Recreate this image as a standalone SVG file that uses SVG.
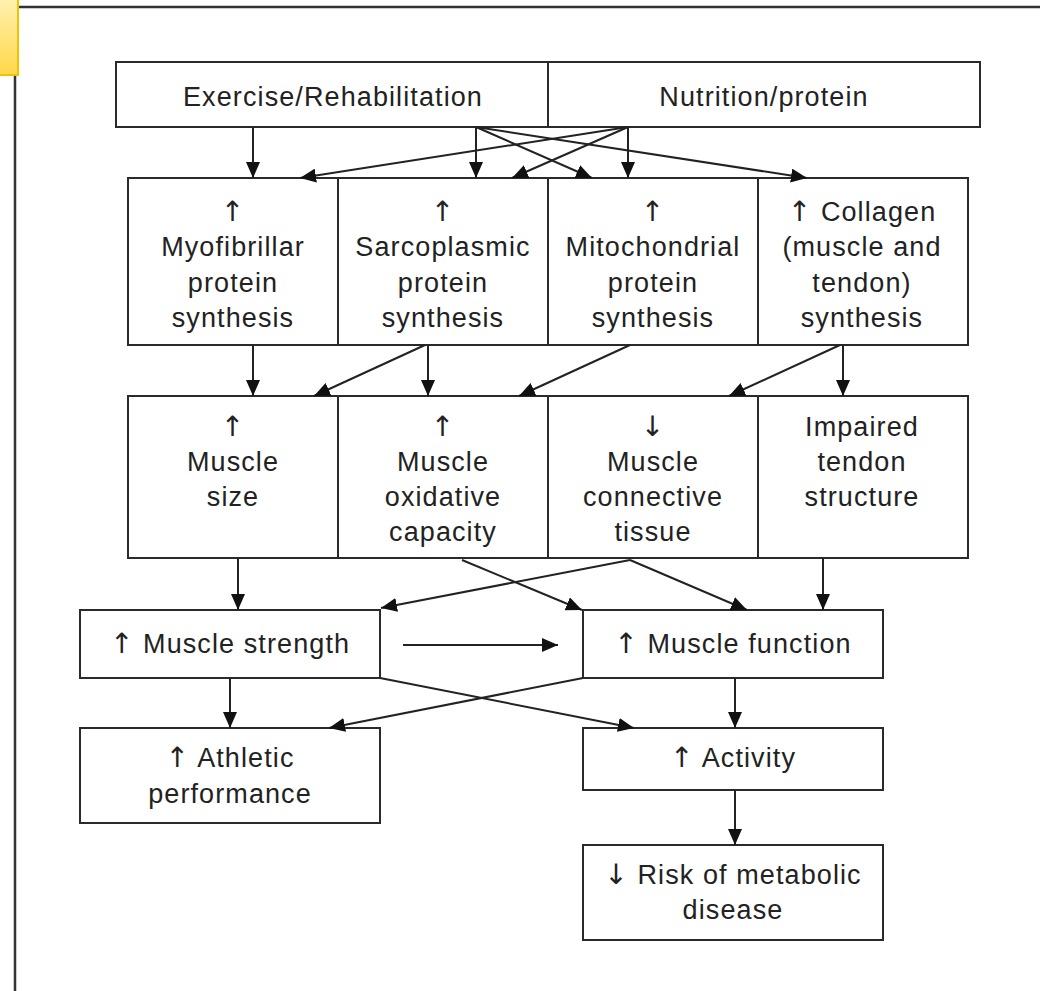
<svg xmlns="http://www.w3.org/2000/svg" width="1040" height="991" viewBox="0 0 1040 991">
<style>
.box{fill:#fff;stroke:#2a2a2a;stroke-width:2}
.t{font-family:"Liberation Sans","DejaVu Sans",sans-serif;font-size:27px;letter-spacing:1.1px;fill:#222;text-anchor:middle}
.a{font-family:"DejaVu Sans",sans-serif;font-size:28px;fill:#222}
.c{stroke:#222;stroke-width:2;fill:none;marker-end:url(#ah)}
.frame{stroke:#333;stroke-width:2.5;fill:none}
</style>
<defs>
<marker id="ah" viewBox="0 0 16 14" refX="16" refY="7" markerWidth="16" markerHeight="14" markerUnits="userSpaceOnUse" orient="auto">
<path d="M0,0 L16,7 L0,14 Z" fill="#111"/>
</marker>
<linearGradient id="yg" x1="0" y1="0" x2="0" y2="1">
<stop offset="0" stop-color="#fff1b0"/>
<stop offset="1" stop-color="#ffd84a"/>
</linearGradient>
</defs>
<g id="frame">
<line class="frame" x1="18" y1="7" x2="1040" y2="7"/>
<line class="frame" x1="15" y1="75" x2="15" y2="991"/>
<rect x="-2" y="-2" width="20" height="77" fill="url(#yg)" stroke="#f2c200" stroke-width="2"/>
</g>
<g id="exercise">
<rect class="box" x="116" y="62" width="432" height="65"/>
<text class="t" x="333" y="106">Exercise/Rehabilitation</text>
</g>
<g id="nutrition">
<rect class="box" x="548" y="62" width="432" height="65"/>
<text class="t" x="764" y="106">Nutrition/protein</text>
</g>
<g id="myofibrillar">
<rect class="box" x="128" y="178" width="210" height="167"/>
<text class="t" x="233" y="221"><tspan class="a">↑</tspan></text>
<text class="t" x="233" y="256">Myofibrillar</text>
<text class="t" x="233" y="292">protein</text>
<text class="t" x="233" y="327">synthesis</text>
</g>
<g id="sarcoplasmic">
<rect class="box" x="338" y="178" width="210" height="167"/>
<text class="t" x="443" y="221"><tspan class="a">↑</tspan></text>
<text class="t" x="443" y="256">Sarcoplasmic</text>
<text class="t" x="443" y="292">protein</text>
<text class="t" x="443" y="327">synthesis</text>
</g>
<g id="mitochondrial">
<rect class="box" x="548" y="178" width="210" height="167"/>
<text class="t" x="653" y="221"><tspan class="a">↑</tspan></text>
<text class="t" x="653" y="256">Mitochondrial</text>
<text class="t" x="653" y="292">protein</text>
<text class="t" x="653" y="327">synthesis</text>
</g>
<g id="collagen">
<rect class="box" x="758" y="178" width="210" height="167"/>
<text class="t" x="862" y="221"><tspan class="a">↑</tspan> Collagen</text>
<text class="t" x="862" y="256">(muscle and</text>
<text class="t" x="862" y="292">tendon)</text>
<text class="t" x="862" y="327">synthesis</text>
</g>
<g id="size">
<rect class="box" x="128" y="396" width="210" height="162"/>
<text class="t" x="233" y="436"><tspan class="a">↑</tspan></text>
<text class="t" x="233" y="471">Muscle</text>
<text class="t" x="233" y="506">size</text>
</g>
<g id="oxidative">
<rect class="box" x="338" y="396" width="210" height="162"/>
<text class="t" x="443" y="436"><tspan class="a">↑</tspan></text>
<text class="t" x="443" y="471">Muscle</text>
<text class="t" x="443" y="506">oxidative</text>
<text class="t" x="443" y="541">capacity</text>
</g>
<g id="connective">
<rect class="box" x="548" y="396" width="210" height="162"/>
<text class="t" x="653" y="436"><tspan class="a">↓</tspan></text>
<text class="t" x="653" y="471">Muscle</text>
<text class="t" x="653" y="506">connective</text>
<text class="t" x="653" y="541">tissue</text>
</g>
<g id="tendon">
<rect class="box" x="758" y="396" width="210" height="162"/>
<text class="t" x="862" y="436">Impaired</text>
<text class="t" x="862" y="471">tendon</text>
<text class="t" x="862" y="506">structure</text>
</g>
<g id="strength">
<rect class="box" x="80" y="610" width="300" height="68"/>
<text class="t" x="230" y="653"><tspan class="a">↑</tspan> Muscle strength</text>
</g>
<g id="function">
<rect class="box" x="583" y="610" width="300" height="68"/>
<text class="t" x="733" y="653"><tspan class="a">↑</tspan> Muscle function</text>
</g>
<g id="athletic">
<rect class="box" x="80" y="728" width="300" height="95"/>
<text class="t" x="230" y="767"><tspan class="a">↑</tspan> Athletic</text>
<text class="t" x="230" y="803">performance</text>
</g>
<g id="activity">
<rect class="box" x="583" y="728" width="300" height="62"/>
<text class="t" x="733" y="767"><tspan class="a">↑</tspan> Activity</text>
</g>
<g id="risk">
<rect class="box" x="583" y="845" width="300" height="95"/>
<text class="t" x="733" y="884"><tspan class="a">↓</tspan> Risk of metabolic</text>
<text class="t" x="733" y="919">disease</text>
</g>
<g id="connectors">
<line class="c" x1="253" y1="127" x2="253" y2="178"/>
<line class="c" x1="476" y1="127" x2="476" y2="178"/>
<line class="c" x1="628" y1="127" x2="628" y2="178"/>
<line class="c" x1="476" y1="127" x2="592" y2="178"/>
<line class="c" x1="476" y1="127" x2="807" y2="178"/>
<line class="c" x1="628" y1="127" x2="300" y2="178"/>
<line class="c" x1="628" y1="127" x2="512" y2="178"/>
<line class="c" x1="253" y1="345" x2="253" y2="396"/>
<line class="c" x1="428" y1="345" x2="428" y2="396"/>
<line class="c" x1="843" y1="345" x2="843" y2="396"/>
<line class="c" x1="425" y1="345" x2="314" y2="396"/>
<line class="c" x1="630" y1="345" x2="519" y2="396"/>
<line class="c" x1="840" y1="345" x2="729" y2="396"/>
<line class="c" x1="238" y1="558" x2="238" y2="610"/>
<line class="c" x1="823" y1="558" x2="823" y2="610"/>
<line class="c" x1="462" y1="560" x2="582" y2="610"/>
<line class="c" x1="630" y1="560" x2="381" y2="608"/>
<line class="c" x1="630" y1="560" x2="747" y2="610"/>
<line class="c" x1="403" y1="645" x2="558" y2="645"/>
<line class="c" x1="230" y1="678" x2="230" y2="728"/>
<line class="c" x1="735" y1="678" x2="735" y2="728"/>
<line class="c" x1="380" y1="678" x2="634" y2="728"/>
<line class="c" x1="583" y1="678" x2="329" y2="728"/>
<line class="c" x1="735" y1="790" x2="735" y2="845"/>
</g>
</svg>
